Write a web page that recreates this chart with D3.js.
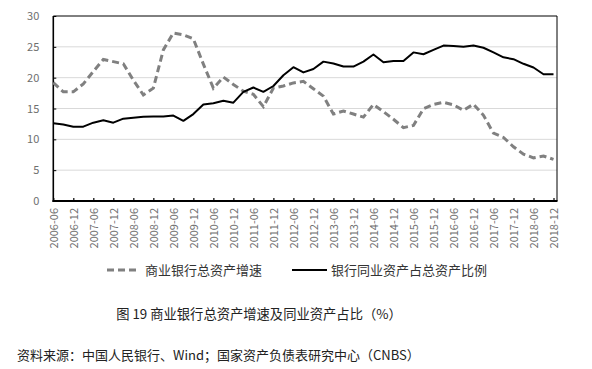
<!DOCTYPE html>
<html><head><meta charset="utf-8">
<script src="https://cdn.jsdelivr.net/npm/d3@7"></script>
<style>body{margin:0;background:#fff;}svg{display:block;}</style>
</head><body>
<svg id="c" width="592" height="369"></svg>
<script>
// Quarterly categories 2006-06 .. 2018-12
const years = d3.range(2006, 2019);
const categories = [];
years.forEach(y => ["03","06","09","12"].forEach(m => { const k = y + "-" + m; if (k >= "2006-06") categories.push(k); }));
const tickLabels = categories.filter(c => c.endsWith("06") || c.endsWith("12"));

const growth = [19.2,17.7,17.7,19.0,21.0,22.95,22.6,22.25,19.6,17.2,18.3,24.5,27.25,26.95,26.3,22.2,18.3,20.1,18.9,17.8,17.3,15.3,18.3,18.65,19.15,19.4,18.2,17.0,14.1,14.6,14.1,13.6,15.65,14.5,13.25,11.9,12.25,14.95,15.65,16.0,15.6,14.7,15.7,13.9,11.0,10.3,8.8,7.6,7.0,7.3,6.75];
const interbankShare = [12.6,12.4,12.05,12.05,12.7,13.1,12.7,13.35,13.5,13.65,13.7,13.7,13.85,13.0,14.1,15.65,15.85,16.25,15.95,17.7,18.4,17.7,18.65,20.4,21.7,20.85,21.4,22.6,22.3,21.8,21.8,22.6,23.75,22.5,22.7,22.7,24.1,23.8,24.5,25.2,25.15,25.0,25.2,24.85,24.1,23.3,23.0,22.25,21.65,20.55,20.55];
const yTicks = [0,5,10,15,20,25,30];
const seriesNames = ["商业银行总资产增速","银行同业资产占总资产比例"];
const title = "图 19  商业银行总资产增速及同业资产占比（%）";
const source = "资料来源：中国人民银行、Wind；国家资产负债表研究中心（CNBS）";

const svg = d3.select("#c");
const font = "'Noto Sans CJK SC', 'Noto Sans', sans-serif";
const L = 53.3, R = 553.5, T = 16, B = 201, boxR = 557;
const x = d3.scalePoint().domain(categories).range([L, R]);
const y = d3.scaleLinear().domain([0, 30]).range([B, T]);

// gridlines
svg.append("g").selectAll("line").data(yTicks.filter(v => v > 0 && v < 30)).join("line")
  .attr("x1", L).attr("x2", boxR).attr("y1", d => y(d)).attr("y2", d => y(d))
  .attr("stroke", "#d9d9d9").attr("stroke-width", 1);

// y axis labels
const ya = svg.append("g").attr("transform", `translate(${L},0)`)
  .call(d3.axisLeft(y).tickValues(yTicks).tickSize(-3).tickPadding(14));
ya.select(".domain").remove();
ya.selectAll("line").attr("stroke", "#000").attr("stroke-width", 1);
ya.selectAll("text").attr("font-family", font).attr("font-size", 11).attr("fill", "#6e6e6e");

// x axis
const xa = svg.append("g").attr("transform", `translate(0,${B})`)
  .call(d3.axisBottom(x).tickValues(tickLabels).tickSize(-3).tickPadding(0));
xa.select(".domain").remove();
xa.selectAll("line").attr("stroke", "#000").attr("stroke-width", 1.2);
xa.selectAll("text").attr("font-family", font).attr("font-size", 11).attr("fill", "#6e6e6e")
  .attr("transform", "translate(0,7) rotate(-90)").attr("text-anchor", "end")
  .attr("dx", 0).attr("dy", "0.35em").attr("x", 0).attr("y", 0);

// box
svg.append("line").attr("x1", L).attr("x2", boxR).attr("y1", T).attr("y2", T).attr("stroke", "#000").attr("stroke-width", 1);
svg.append("line").attr("x1", boxR).attr("x2", boxR).attr("y1", T).attr("y2", B).attr("stroke", "#000").attr("stroke-width", 1);
svg.append("line").attr("x1", L).attr("x2", L).attr("y1", T).attr("y2", B + 1).attr("stroke", "#000").attr("stroke-width", 1.6);
svg.append("line").attr("x1", L - 0.8).attr("x2", boxR + 0.5).attr("y1", B).attr("y2", B).attr("stroke", "#000").attr("stroke-width", 2);

const line = d3.line().x((d, i) => x(categories[i])).y(d => y(d));
svg.append("path").datum(growth).attr("d", line).attr("fill", "none")
  .attr("stroke", "#808080").attr("stroke-width", 3).attr("stroke-dasharray", "7,4");
svg.append("path").datum(interbankShare).attr("d", line).attr("fill", "none")
  .attr("stroke", "#000").attr("stroke-width", 2).attr("stroke-linejoin", "round");

// legend
const lg = svg.append("g");
lg.append("line").attr("x1", 107).attr("x2", 138).attr("y1", 270).attr("y2", 270)
  .attr("stroke", "#808080").attr("stroke-width", 3).attr("stroke-dasharray", "7,4");
lg.append("text").attr("x", 145).attr("y", 275).text(seriesNames[0])
  .attr("font-family", font).attr("font-size", 13).attr("fill", "#333");
lg.append("line").attr("x1", 292).attr("x2", 327).attr("y1", 270).attr("y2", 270)
  .attr("stroke", "#000").attr("stroke-width", 2);
lg.append("text").attr("x", 331).attr("y", 275).text(seriesNames[1])
  .attr("font-family", font).attr("font-size", 13).attr("fill", "#333");

svg.append("text").attr("x", 259).attr("y", 319).attr("text-anchor", "middle").text(title)
  .attr("font-family", font).attr("font-size", 13.3).attr("fill", "#222");
svg.append("text").attr("x", 17).attr("y", 360).text(source)
  .attr("font-family", font).attr("font-size", 13).attr("fill", "#222");
</script>
</body></html>
